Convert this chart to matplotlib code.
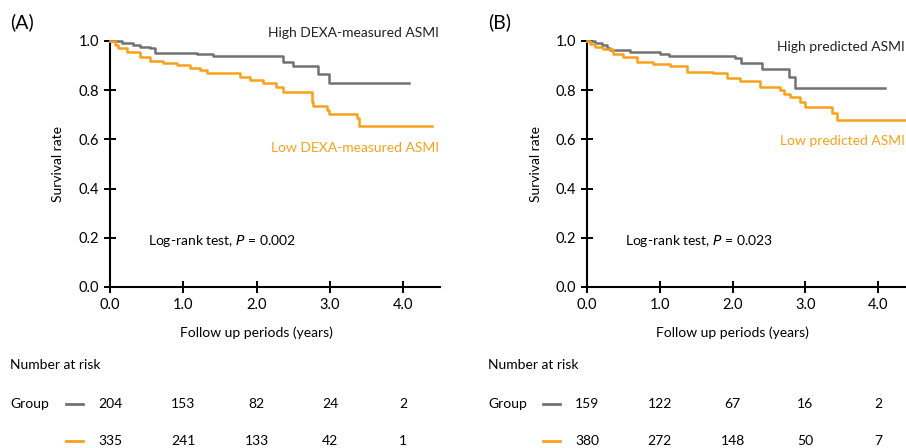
import numpy as np
import matplotlib.pyplot as plt
import matplotlib.transforms as mtransforms

plt.rcParams['font.family'] = ['Lato', 'DejaVu Sans']

GREY = '#727272'
ORANGE = '#F9A11B'
FS = 10

# panel A: step times (years) and survival after each step
a_high_t = [0.0, 0.16, 0.31, 0.41, 0.55, 0.61, 1.18, 1.41, 2.36, 2.50, 2.84, 2.99, 4.08]
a_high_s = [1.0, 0.993, 0.984, 0.977, 0.970, 0.952, 0.946, 0.939, 0.916, 0.898, 0.865, 0.830, 0.830]
a_low_t = [0.0, 0.07, 0.11, 0.23, 0.41, 0.55, 0.72, 0.91, 1.09, 1.23, 1.32, 1.77, 1.91, 2.09,
           2.27, 2.36, 2.75, 2.77, 2.96, 2.98, 3.37, 3.40, 4.39]
a_low_s = [1.0, 0.984, 0.970, 0.957, 0.934, 0.920, 0.909, 0.901, 0.889, 0.882, 0.869, 0.855, 0.841, 0.828,
           0.814, 0.794, 0.753, 0.736, 0.720, 0.703, 0.686, 0.654, 0.654]

# panel B
b_high_t = [0.0, 0.11, 0.20, 0.27, 0.32, 0.59, 1.0, 1.12, 2.03, 2.12, 2.40, 2.77, 2.86, 4.09]
b_high_s = [1.0, 0.993, 0.984, 0.970, 0.963, 0.957, 0.947, 0.939, 0.930, 0.912, 0.885, 0.855, 0.808, 0.808]
b_low_t = [0.0, 0.04, 0.11, 0.22, 0.36, 0.50, 0.68, 0.91, 1.14, 1.37, 1.73, 1.92, 2.10, 2.38,
           2.65, 2.70, 2.79, 2.93, 3.0, 3.36, 3.43, 4.45]
b_low_s = [1.0, 0.988, 0.977, 0.966, 0.947, 0.934, 0.916, 0.905, 0.898, 0.875, 0.869, 0.848, 0.839, 0.814,
           0.801, 0.785, 0.771, 0.753, 0.730, 0.709, 0.679, 0.679]

risk_times = [0, 1, 2, 3, 4]
a_risk_high = [204, 153, 82, 24, 2]
a_risk_low = [335, 241, 133, 42, 1]
b_risk_high = [159, 122, 67, 16, 2]
b_risk_low = [380, 272, 148, 50, 7]

fig = plt.figure(figsize=(9.06, 4.48), dpi=100)
axA = fig.add_axes([110/906, 1-287/448, 330/906, 246/448])
axB = fig.add_axes([587/906, 1-287/448, 327.6/906, 246/448])


def panel(ax, tag, xmax, ht, hs, lt, ls, hi_lab, hi_y, hi_x, lo_lab, lo_y, lo_x, pval, rh, rl):
    ax.plot(ht, hs, drawstyle='steps-post', color=GREY, lw=1.8, clip_on=False, zorder=3)
    ax.plot(lt, ls, drawstyle='steps-post', color=ORANGE, lw=1.8, clip_on=False, zorder=3)
    ax.set_xlim(0, xmax)
    ax.set_ylim(0, 1.0)
    ax.set_xticks([0, 1, 2, 3, 4])
    ax.set_xticklabels(['0.0', '1.0', '2.0', '3.0', '4.0'])
    ax.set_yticks(np.arange(0, 1.01, 0.2))
    ax.set_yticklabels(['%.1f' % v for v in np.arange(0, 1.01, 0.2)])
    for s in ['top', 'right']:
        ax.spines[s].set_visible(False)
    for s in ['left', 'bottom']:
        ax.spines[s].set_linewidth(1.5)
    ax.tick_params(direction='inout', length=8, width=1.4, labelsize=10.5, pad=4)
    ax.set_ylabel('Survival rate', fontsize=FS, labelpad=10)

    ax.text(hi_x, hi_y, hi_lab, ha='right', va='center', fontsize=FS, color='#222222', clip_on=False)
    ax.text(lo_x, lo_y, lo_lab, ha='right', va='center', fontsize=FS, color=ORANGE, clip_on=False)
    ax.text(0.52, 0.187, 'Log-rank test, $\\it{P}$ = ' + pval, ha='left', va='center', fontsize=FS)

    tr = mtransforms.blended_transform_factory(ax.transData, fig.transFigure)
    ax.text(2.0, 1-333/448, 'Follow up periods (years)', transform=tr, ha='center', va='center', fontsize=FS)
    ax.text(-1.36, 1-22/448, tag, transform=tr, ha='left', va='center', fontsize=14)
    ax.text(-1.36, 1-365/448, 'Number at risk', transform=tr, ha='left', va='center', fontsize=FS)
    ax.text(-1.36, 1-404/448, 'Group', transform=tr, ha='left', va='center', fontsize=FS)
    ax.plot([-0.6, -0.37], [1-404/448]*2, transform=tr, color=GREY, lw=2, clip_on=False)
    ax.plot([-0.6, -0.37], [1-441/448]*2, transform=tr, color=ORANGE, lw=2, clip_on=False)
    for t, h, l in zip(risk_times, rh, rl):
        ax.text(t, 1-404/448, str(h), transform=tr, ha='center', va='center', fontsize=FS)
        ax.text(t, 1-441/448, str(l), transform=tr, ha='center', va='center', fontsize=FS)


panel(axA, '(A)', 4.5, a_high_t, a_high_s, a_low_t, a_low_s,
      'High DEXA-measured ASMI', 1.033, 4.48, 'Low DEXA-measured ASMI', 0.565, 4.48, '0.002',
      a_risk_high, a_risk_low)
panel(axB, '(B)', 4.5, b_high_t, b_high_s, b_low_t, b_low_s,
      'High predicted ASMI', 0.976, 4.37, 'Low predicted ASMI', 0.593, 4.37, '0.023',
      b_risk_high, b_risk_low)

fig.savefig('out.png', dpi=100)
